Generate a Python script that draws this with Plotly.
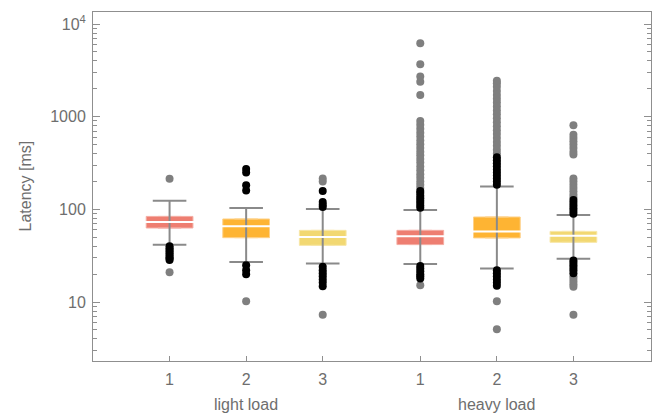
import plotly.graph_objects as go

# ---- data ----
groups = ["light load", "heavy load"]
series_labels = ["1", "2", "3"]
positions = [1, 2, 3, 4.274, 5.274, 6.274]

q1 = [63, 49.5, 40.9, 41.7, 49.2, 44.1]
median = [73, 65.6, 50.4, 51.2, 57.9, 52.1]
q3 = [84, 78.8, 59.4, 59.4, 82.8, 57.9]
lower_whisker = [41.5, 27.1, 26, 25.8, 23, 29.4]
upper_whisker = [124, 103.5, 100.9, 98.5, 177, 87]

near_outliers = [
    [40, 38, 36.5, 35, 33.5, 32, 30.5, 29.5, 28.5],
    [272, 250, 182, 160, 25, 22, 20],
    [158, 120, 112, 106, 24, 22, 20.5, 19, 17.5, 16.3, 14.8],
    [104, 110, 117, 124, 132, 140, 150, 158, 24.5, 23, 21.5, 20, 19, 18],
    [185, 200, 215, 232, 250, 270, 292, 315, 340, 365, 22, 20.5, 19, 17.5, 16.3, 15],
    [90, 96, 103, 110, 118, 126, 28, 26.5, 25, 23.5, 22, 20.5],
]
far_outliers = [
    [214, 21],
    [10.2],
    [215, 200, 7.3],
    [170, 185, 200, 220, 240, 265, 290, 320, 350, 385, 420, 460, 505, 555, 610,
     670, 740, 820, 900, 1720, 2390, 2710, 3690, 6210, 15.2],
    [400, 440, 485, 535, 590, 650, 715, 790, 870, 960, 1060, 1170, 1290, 1420,
     1560, 1720, 1900, 2100, 2300, 2450, 10.2, 5.1],
    [135, 145, 157, 170, 185, 200, 215, 390, 420, 460, 500, 545, 590, 640, 810,
     19, 17.8, 16.7, 15.6, 14.6, 7.3],
]

box_colors = ["#EE7E71", "#FEB433", "#F2D872"]
box_edge_colors = ["#F4ACA2", "#FED189", "#F7E6A6"]
whisker_color = "#8a8a8a"
text_color = "#6e6e6e"
font_family = "Liberation Sans, Arial, sans-serif"

fig = go.Figure()

# whiskers (vertical lines)
wx, wy = [], []
for p, lo, hi in zip(positions, lower_whisker, upper_whisker):
    wx += [p, p, None]
    wy += [lo, hi, None]
fig.add_trace(go.Scatter(x=wx, y=wy, mode="lines",
                         line=dict(color=whisker_color, width=2),
                         hoverinfo="skip", showlegend=False))

# boxes
for i, p in enumerate(positions):
    fig.add_trace(go.Box(
        x=[p], q1=[q1[i]], median=[median[i]], q3=[q3[i]],
        lowerfence=[q1[i]], upperfence=[q3[i]],
        width=0.61, fillcolor=box_colors[i % 3],
        line=dict(color=box_edge_colors[i % 3], width=1),
        boxpoints=False, showlegend=False, hoverinfo="skip"))

# median lines
fig.add_trace(go.Scatter(
    x=positions, y=median, mode="markers",
    marker=dict(symbol="line-ew", size=45,
                line=dict(color="white", width=2)),
    hoverinfo="skip", showlegend=False))

# whisker caps
fig.add_trace(go.Scatter(
    x=positions + positions, y=lower_whisker + upper_whisker, mode="markers",
    marker=dict(symbol="line-ew", size=24,
                line=dict(color=whisker_color, width=2)),
    hoverinfo="skip", showlegend=False))

# outliers
for i, p in enumerate(positions):
    fig.add_trace(go.Scatter(
        x=[p] * len(far_outliers[i]), y=far_outliers[i], mode="markers",
        marker=dict(color="#7f7f7f", size=8, line=dict(width=0)),
        showlegend=False, hoverinfo="y"))
    fig.add_trace(go.Scatter(
        x=[p] * len(near_outliers[i]), y=near_outliers[i], mode="markers",
        marker=dict(color="#000000", size=8, line=dict(width=0)),
        showlegend=False, hoverinfo="y"))

fig.update_layout(
    width=667, height=419,
    margin=dict(l=93, r=16, t=12, b=58),
    plot_bgcolor="white", paper_bgcolor="white",
    font=dict(family=font_family, size=16, color=text_color),
    xaxis=dict(
        range=[0, 7.287], tickvals=positions, ticktext=series_labels * 2,
        ticks="inside", ticklen=5, tickcolor="#8f8f8f",
        showline=True, linecolor="#8f8f8f", linewidth=1, mirror=True,
        showgrid=False, zeroline=False, ticklabelstandoff=4,
    ),
    yaxis=dict(
        type="log", range=[0.364, 4.130],
        tickvals=[10, 100, 1000, 10000],
        ticktext=["10", "100", "1000", "10<sup>4</sup>"],
        ticks="inside", ticklen=7, tickcolor="#8f8f8f",
        minor=dict(ticks="inside", ticklen=4, dtick="D1", tickcolor="#8f8f8f", showgrid=False),
        showline=True, linecolor="#8f8f8f", linewidth=1, mirror="ticks",
        showgrid=False, zeroline=False, ticklabelstandoff=3,
    ),
    annotations=[
        dict(text=groups[0], x=positions[1], xref="x", y=0, yref="paper",
             yshift=-43, showarrow=False, yanchor="middle",
             font=dict(size=16, color=text_color)),
        dict(text=groups[1], x=positions[4], xref="x", y=0, yref="paper",
             yshift=-43, showarrow=False, yanchor="middle",
             font=dict(size=16, color=text_color)),
        dict(text="Latency [ms]", x=0, xref="paper", xshift=-68, y=0.5, yref="paper",
             textangle=-90, showarrow=False, xanchor="center", yanchor="middle",
             font=dict(size=16, color=text_color)),
    ],
)

fig.write_html("out.html")
